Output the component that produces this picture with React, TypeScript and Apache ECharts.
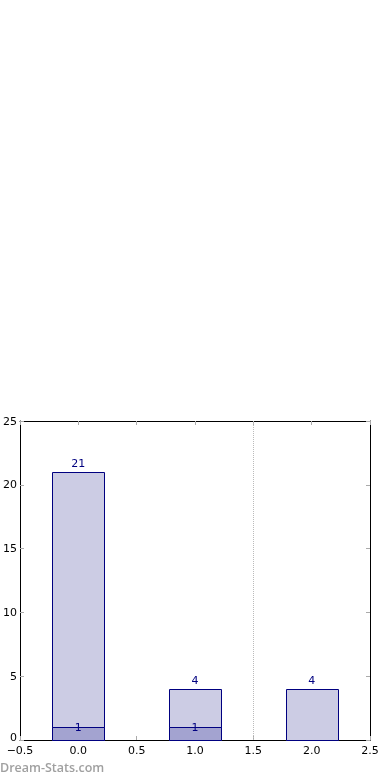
import React, { useEffect, useRef } from "react";
import * as echarts from "echarts";

const positions = [0, 1, 2];
const totals = [21, 4, 4];
const lowers = [1, 1, 0];
const dividers = [1.5];
const xTicks = { min: -0.5, max: 2.5, interval: 0.5 };
const yTicks = { min: 0, max: 25, interval: 5 };
const watermark = "Dream-Stats.com";

const HALF = 0.222;
const FONT = "DejaVu Sans";

function fmtX(v: number) {
  const s = v.toFixed(1);
  return s.replace("-", "\u2212");
}

function fmtY(v: number) {
  return v === 0 ? "{z|0}" : String(v);
}

export default function App() {
  const ref = useRef<HTMLDivElement>(null);
  useEffect(() => {
    if (!ref.current) return;
    const chart = echarts.init(ref.current, undefined, { renderer: "svg" });
    const tick = { show: true, inside: true, length: 4, lineStyle: { color: "#aaaaaa", width: 1 } };
    const makeRender = (fill: string, labelColor: string, mode: "top" | "mid") =>
      (params: any, api: any) => {
        const x = api.value(0);
        const v = api.value(1);
        if (!v) return null;
        const p1 = api.coord([x - HALF, v]);
        const p2 = api.coord([x + HALF, 0]);
        const top = api.coord([x, v]);
        return {
          type: "group",
          children: [
            {
              type: "rect",
              shape: { x: Math.round(p1[0]) + 0.5, y: Math.round(p1[1]) + 0.5, width: Math.round(p2[0] - p1[0]), height: Math.round(p2[1] - p1[1]) },
              style: { fill, stroke: "#000080", lineWidth: 1 },
            },
            {
              type: "text",
              x: top[0],
              y: mode === "top" ? top[1] - 3 : top[1] + 0.5,
              style: {
                text: String(v),
                fill: labelColor,
                font: `11px "${FONT}"`,
                textAlign: "center",
                textVerticalAlign: mode === "top" ? "bottom" : "middle",
              },
            },
          ],
        };
      };
    chart.setOption({
      animation: false,
      grid: { left: 19, top: 421, width: 351, height: 319, show: false },
      xAxis: [
        {
          type: "value", position: "bottom", ...xTicks,
          axisLine: { show: true, onZero: false, lineStyle: { color: "#000", width: 1 } },
          axisTick: tick, splitLine: { show: false },
          axisLabel: { formatter: fmtX, color: "#000", fontFamily: FONT, fontSize: 11, lineHeight: 11, margin: 5 },
        },
        {
          type: "value", position: "top", ...xTicks,
          axisLine: { show: true, onZero: false, lineStyle: { color: "#000", width: 1 } },
          axisTick: tick, splitLine: { show: false }, axisLabel: { show: false },
        },
      ],
      yAxis: [
        {
          type: "value", position: "left", ...yTicks,
          axisLine: { show: true, onZero: false, lineStyle: { color: "#000", width: 1 } },
          axisTick: tick, splitLine: { show: false },
          axisLabel: {
            formatter: fmtY, color: "#000", fontFamily: FONT, fontSize: 11, lineHeight: 10, margin: 3,
            rich: { z: { color: "#000", fontFamily: FONT, fontSize: 11, lineHeight: 10, padding: [0, 0, 6, 0] } },
          },
        },
        {
          type: "value", position: "right", ...yTicks,
          axisLine: { show: true, onZero: false, lineStyle: { color: "#000", width: 1 } },
          axisTick: tick, splitLine: { show: false }, axisLabel: { show: false },
        },
      ],
      series: [
        {
          type: "custom",
          renderItem: makeRender("#ccccE4", "#000080", "top"),
          data: positions.map((p, i) => [p, totals[i]]),
          encode: { x: 0, y: 1 },
          markLine: {
            silent: true,
            symbol: "none",
            label: { show: false },
            lineStyle: { color: "#bbbbbb", type: "dotted", width: 1 },
            data: dividers.map((d) => ({ xAxis: d })),
          },
          z: 2,
        },
        {
          type: "custom",
          renderItem: makeRender("#a3a3d0", "#000080", "mid"),
          data: positions.map((p, i) => [p, lowers[i]]),
          encode: { x: 0, y: 1 },
          z: 3,
        },
      ],
      graphic: [
        {
          type: "text",
          left: 0,
          top: 761,
          style: { text: watermark, fill: "#a0a0a0", font: `600 12.5px "Open Sans"` },
        },
      ],
    });
    return () => chart.dispose();
  }, []);
  return <div ref={ref} style={{ position: "fixed", left: 0, top: 0, width: 390, height: 780 }} />;
}
